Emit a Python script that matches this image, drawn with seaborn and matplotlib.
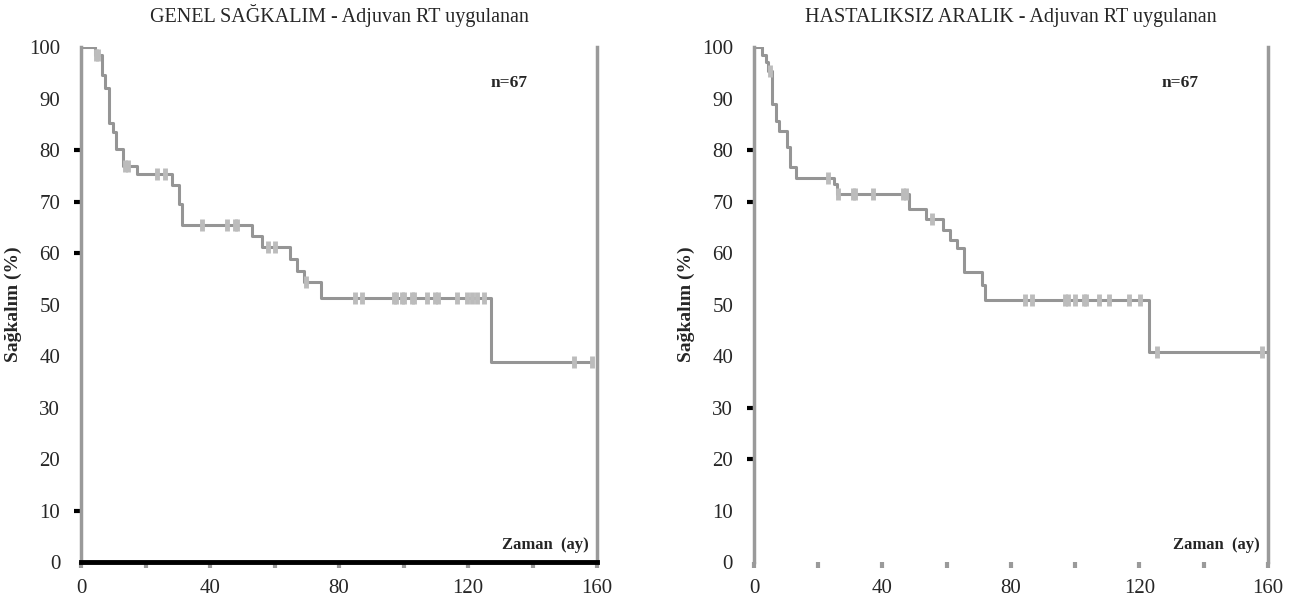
import numpy as np
import pandas as pd
import seaborn as sns
import matplotlib
matplotlib.use("Agg")
import matplotlib.pyplot as plt
from matplotlib.ticker import MultipleLocator, FixedLocator

# genel sagkalim (overall survival): drop times (months) and survival after drop (%)
OS_TIMES = [4.3, 6.4, 7.4, 8.8, 9.8, 10.9, 13.1, 17.2, 28.1, 30.4, 31.3,
            52.9, 56.0, 64.8, 66.9, 69.1, 74.3, 127.1]
OS_SURV = [98.5, 94.5, 92.0, 85.2, 83.5, 80.2, 76.9, 75.3, 73.3, 69.5, 65.5,
           63.4, 61.2, 58.9, 56.6, 54.3, 51.2, 38.9]
OS_CENSORED = [4.6, 5.1, 13.6, 14.5, 23.5, 26.0, 37.6, 45.2, 47.8, 48.5,
               58.1, 60.2, 69.8, 85.0, 87.1, 96.9, 97.8, 99.4, 100.3, 102.5,
               103.4, 107.2, 109.8, 110.7, 116.5, 119.6, 121.2, 122.9, 124.8,
               152.9, 158.4]
OS_LAST = 158.4

# hastaliksiz aralik (disease free interval)
DFS_TIMES = [2.6, 3.7, 4.5, 5.5, 6.8, 7.8, 10.2, 11.2, 13.1, 24.9, 26.0,
             48.3, 53.5, 58.9, 61.0, 63.3, 65.4, 70.9, 71.9, 123.1]
DFS_SURV = [98.4, 97.0, 95.4, 88.9, 85.6, 83.6, 80.5, 76.7, 74.6, 73.4, 71.4,
            68.6, 66.6, 64.4, 62.6, 61.0, 56.4, 53.7, 50.9, 40.8]
DFS_CENSORED = [5.0, 22.9, 26.3, 30.9, 31.5, 37.1, 46.5, 47.2, 55.5, 84.4,
                86.5, 96.9, 97.8, 100.0, 102.6, 103.5, 107.3, 110.4, 116.6,
                120.2, 125.4, 158.1]
DFS_LAST = 160.0

TITLES = ["GENEL SAĞKALIM - Adjuvan RT uygulanan",
          "HASTALIKSIZ ARALIK - Adjuvan RT uygulanan"]
N_LABEL = "n=67"
Y_LABEL = "Sağkalım (%)"
X_LABEL = "Zaman  (ay)"
BLACK_YTICKS = [[80, 70, 60, 10], [80, 70, 30, 20]]

CURVE = "#959595"
CENSOR = "#bcbcbc"
SPINE = "#9a9a9a"


def step_frame(times, surv, last):
    x = [0.0] + list(times) + [last]
    y = [100.0] + list(surv) + [surv[-1]]
    return pd.DataFrame({"t": x, "s": y})


def censor_frame(times, surv, censored):
    t = np.asarray(times)
    s = np.asarray(surv)
    idx = np.searchsorted(t, censored, side="right") - 1
    lev = np.where(idx >= 0, s[np.clip(idx, 0, None)], 100.0)
    return pd.DataFrame({"t": censored, "s": lev})


def draw_panel(ax, times, surv, censored, last, title, black_ticks, bottom_line):
    curve = step_frame(times, surv, last)
    cens = censor_frame(times, surv, censored)
    sns.lineplot(data=curve, x="t", y="s", ax=ax, drawstyle="steps-post",
                 estimator=None, sort=False, color=CURVE, lw=2.2)
    sns.scatterplot(data=cens, x="t", y="s", ax=ax, marker="|", s=70,
                    linewidth=3.5, color=CENSOR, zorder=3)

    ax.set_xlim(0, 160)
    ax.set_ylim(0, 100)
    ax.xaxis.set_major_locator(MultipleLocator(40))
    ax.xaxis.set_minor_locator(MultipleLocator(20))
    ax.yaxis.set_major_locator(MultipleLocator(10))
    ax.yaxis.set_minor_locator(FixedLocator(black_ticks))
    ax.yaxis.remove_overlapping_locs = False

    ax.tick_params(axis="x", which="both", bottom=True, direction="out",
                   length=4, width=3, color=SPINE, pad=8, labelsize=15)
    ax.tick_params(axis="y", which="major", left=True, length=0, pad=15,
                   labelsize=15)
    ax.tick_params(axis="y", which="minor", left=True, direction="out",
                   length=5, width=3, color="black")

    for side in ["left", "right"]:
        ax.spines[side].set_visible(True)
        ax.spines[side].set_color(SPINE)
        ax.spines[side].set_linewidth(2.5)
    ax.spines["top"].set_visible(False)
    if bottom_line:
        ax.spines["bottom"].set_color("black")
        ax.spines["bottom"].set_linewidth(3.5)
        ax.spines["bottom"].set_zorder(4)
    else:
        ax.spines["bottom"].set_visible(False)

    ax.set_title(title, fontsize=14.5, pad=18)
    ax.set_ylabel(Y_LABEL, fontsize=14, fontweight="bold")
    ax.yaxis.set_label_coords(-0.114, 0.5)
    ax.set_xlabel("")
    ax.text(127, 93, N_LABEL, fontsize=12.5, fontweight="bold",
            ha="left", va="center")
    ax.text(157.3, 3.4, X_LABEL, fontsize=12, fontweight="bold",
            ha="right", va="center")


sns.set_theme(style="white")
plt.rcParams["font.family"] = ["Liberation Serif", "DejaVu Serif"]

fig = plt.figure(figsize=(12.97, 6.02), dpi=100)
ax1 = fig.add_axes([0.0625, 0.0664, 0.3978, 0.8555])
ax2 = fig.add_axes([0.5813, 0.0664, 0.3963, 0.8555])

draw_panel(ax1, OS_TIMES, OS_SURV, OS_CENSORED, OS_LAST, TITLES[0],
           BLACK_YTICKS[0], True)
draw_panel(ax2, DFS_TIMES, DFS_SURV, DFS_CENSORED, DFS_LAST, TITLES[1],
           BLACK_YTICKS[1], False)

fig.savefig("out.png", dpi=100, facecolor="white")
